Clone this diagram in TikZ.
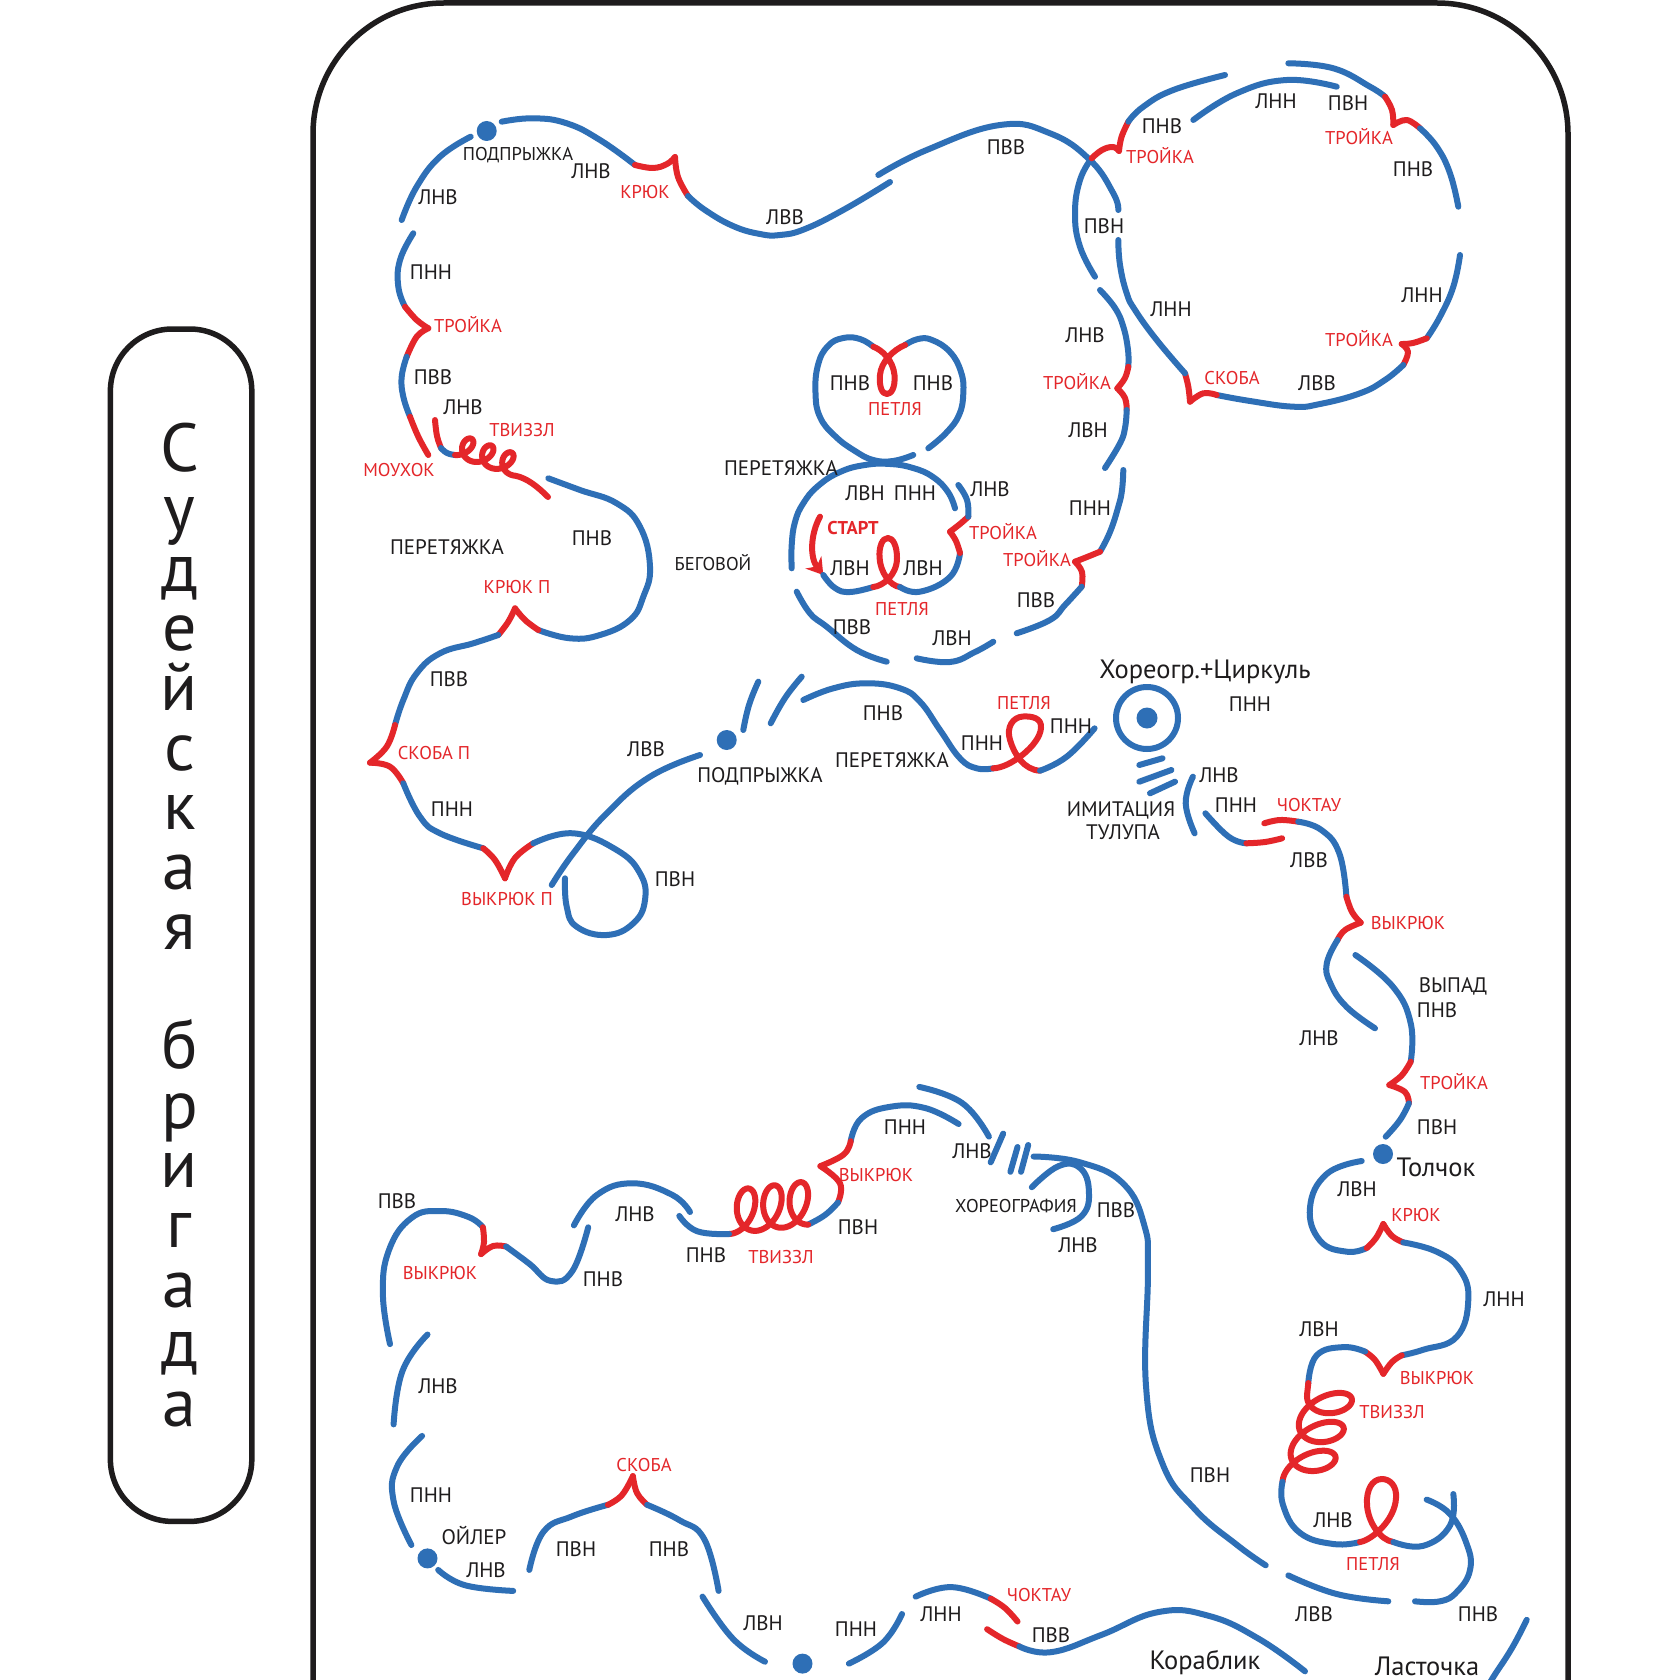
\documentclass[tikz,border=0pt]{standalone}
\usepackage{fontspec}
\setmainfont{PT Sans}
\usetikzlibrary{arrows.meta}
\definecolor{bluC}{RGB}{46,111,182}
\definecolor{redC}{RGB}{228,38,42}
\definecolor{inkC}{RGB}{30,28,29}
\newcommand\BL[1]{\draw[bl] plot[smooth,tension=0.75] coordinates {#1};}
\newcommand\RD[1]{\draw[rd] plot[smooth,tension=0.7] coordinates {#1};}
\begin{document}
\begin{tikzpicture}[x=1pt,y=-1pt,
 bl/.style={draw=bluC,line width=6pt,line cap=round,line join=round},
 rd/.style={draw=redC,line width=6pt,line cap=round,line join=round},
 lb/.style={font=\fontsize{21}{21}\selectfont,text=inkC,inner sep=0pt,text height=14.7pt,text depth=0pt},
 rl/.style={font=\fontsize{18.5}{18.5}\selectfont,text=redC,inner sep=0pt,text height=13pt,text depth=0pt},
 sm/.style={font=\fontsize{18.5}{18.5}\selectfont,text=inkC,inner sep=0pt,text height=13pt,text depth=0pt},
 bg/.style={font=\fontsize{26.5}{26.5}\selectfont,text=inkC,inner sep=0pt,text height=18.5pt,text depth=0pt},
 dotc/.style={fill=bluC},
 frm/.style={draw=inkC,line width=5.5pt},
 vt/.style={font=\fontsize{68}{59.68}\selectfont,text=inkC,inner sep=0pt,align=center}]
\fill[white] (0,0) rectangle (1680,1680);
\useasboundingbox (0,0) rectangle (1680,1680);
% frames
\draw[frm,rounded corners=131pt] (313,1760) -- (313,3) -- (1568,3) -- (1568,1760);
\draw[frm,rounded corners=62pt] (110.4,329) rectangle (251.8,1521.4);
\node[vt,anchor=north] (vtitle) at (179.5,423.1)
  {С\\у\\д\\е\\й\\с\\к\\а\\я\\\mbox{}\\б\\р\\и\\г\\а\\д\\а};

% ---------- top-left ----------
\BL{(470.7,136.7) (440,156.7) (416.7,186.7) (401.7,220)}
\fill[dotc] (486.7,131) circle[radius=10pt];
\BL{(501.7,121.7) (533.3,118.3) (566.7,123.3) (600,140) (635,165)}
\RD{(635,165) (653,168) (667,164) (675,157)}
\RD{(675,157) (678,177) (688,196)}
\BL{(688,196) (705,210) (733,226) (760,234) (780,235) (805,229) (845,209) (890,182)}
\BL{(878.3,175) (926.7,150) (1000,125) (1050,133.3) (1090,160) (1113.3,193.3) (1118.3,210)}
\BL{(413.3,233.3) (400,260) (398.3,286.7) (405,306.7)}
\RD{(405,306.7) (416.7,320) (428.3,328.3)}
\RD{(428.3,328.3) (416.7,336.7) (406.7,356.7)}
\BL{(406.7,356.7) (401.7,376.7) (403.3,396.7) (410,416.7)}
\RD{(410,416.7) (418.3,436.7) (428.3,455)}
\RD{(435,420) (437,436) (441,448)}
\BL{(441,448) (447,453) (455,455)}
\draw[rd] plot[domain=0:18.85,samples=240,variable=\t,smooth]
  ({455+3.2*\t+10*sin(\t r)+2*(1-cos(\t r))},{455-10*(1-cos(\t r))+1.1*\t})
  .. controls (527,478) and (538,487) .. (548,497);
% ---------- ПНВ / крюк П / скоба П / выкрюк П ----------
\BL{(548.3,478.3) (580,490) (616.7,503.3) (640,526.7) (650,566.7) (643.3,596.7) (630,620) (600,635) (570,638.3) (538.3,630)}
\RD{(538.3,630) (525,620) (515,608.3)}
\RD{(515,608.3) (508.3,621.7) (498.3,635)}
\BL{(498.3,635) (473.3,643.3) (440,653.3) (416.7,673.3) (403.3,700) (395,725)}
\RD{(395,725) (386.7,746.7) (370,762.7)}
\RD{(370,762.7) (390,766.7) (403.3,783.3)}
\BL{(403.3,783.3) (420,816.7) (440,833.3) (483.3,848.3)}
\RD{(483.3,848.3) (495,860) (505,878.3)}
\RD{(505,878.3) (515,858) (533.3,843.3)}
\BL{(533.3,843.3) (573.3,833.3) (616.7,850) (640,873.3) (645,900) (633.3,923.3) (606.7,935) (576.7,926.7) (566.7,906.7) (565,878.3)}
\BL{(551.7,885) (573.3,853.3) (606.7,813.3) (650,776.7) (700,755)}
\fill[dotc] (726.7,740) circle[radius=10pt];
\BL{(743.3,730) (749,705) (758.3,681.7)}
\BL{(770.7,723.3) (785,698) (801.7,676.7)}
% ---------- ПНВ wave + петля ----------
\BL{(803.3,700) (833.3,688.3) (866.7,683.3) (900,688.3) (920,701.7) (940,730) (960,758.3) (976.7,768.3) (993.3,768.3)}
\draw[rd] (993.3,768.3) .. controls (1010,768) and (1040,745) .. (1041,728)
  .. controls (1042,718) and (1032,716) .. (1023,716.5)
  .. controls (1013,717) and (1006,727) .. (1010,740)
  .. controls (1014,754) and (1024,770) .. (1040,770.7);
\BL{(1040,770.7) (1066.7,756.7) (1094.6,728.3)}
% ---------- figure eight ----------
\BL{(873.3,346.7) (860,339) (843.3,338) (828,346) (818,365) (815.5,393) (820,417) (835,436) (855,451) (873.3,460) (893,461) (913.3,455)}
\BL{(905,345) (918,339) (932,340) (950,352) (961,372) (963.3,393.3) (959,415) (946,433) (928.3,448.3)}
\draw[rd] (873.3,346.7) .. controls (882,350) and (893,360) .. (894.5,375)
  .. controls (895.5,388) and (891,394) .. (887,394)
  .. controls (882,394) and (879,387) .. (880,375)
  .. controls (881,362) and (893,350) .. (905,345);
\BL{(955,508.3) (948,492) (933,477) (913,468) (890,464) (865,465) (840,472) (818,486) (803.3,503.3) (795,522) (791.7,545) (791.7,568.3)}
\BL{(796.7,591.7) (810,613.3) (826.7,626.7) (856.7,650) (886.7,661.7)}
\BL{(916.7,658.3) (950,662) (975,652) (993.3,641.7)}
\draw[rd,-{Stealth[length=16pt,width=20pt]}] (820,516.7) .. controls (810,535) and (810,558) .. (823.3,575);
\BL{(823.3,575) (835,588) (850,592) (873.3,587)}
\draw[rd] (873.3,587) .. controls (883,586) and (897,575) .. (897,558)
  .. controls (897,546) and (893,538) .. (888,538)
  .. controls (882,538) and (879,547) .. (879.5,557)
  .. controls (880,572) and (890,586) .. (900,587);
\BL{(900,587) (920,591.7) (950,577) (960,553)}
\RD{(960,553) (956,541) (950,531.7)}
\RD{(950,531.7) (960,524) (968.3,516.7)}
\BL{(968.3,516.7) (967,500) (958.3,485)}
% ---------- right column near eight ----------
\BL{(1100,290) (1115,308) (1123.3,326.7) (1128,350) (1128.3,366.7)}
\RD{(1128.3,366.7) (1125,378) (1117.3,388.3)}
\RD{(1117.3,388.3) (1125,398) (1126.7,410)}
\BL{(1126.7,410) (1125,428) (1120,443.3) (1105,468)}
\BL{(1123.3,470) (1122,490) (1118.3,506.7) (1110,532) (1100,551.7)}
\RD{(1100,551.7) (1087,557) (1075,561.7)}
\RD{(1075,561.7) (1082,572) (1081.7,586.7)}
\BL{(1081.7,586.7) (1065,605) (1050,620) (1016.7,633.3)}
% ---------- top-right loop ----------
\BL{(1095,276.7) (1080,246.7) (1075,213.3) (1080,180) (1091.7,158.3)}
\RD{(1091.7,158.3) (1102,150) (1113,147) (1119,151)}
\RD{(1119,151) (1121.5,137) (1128.3,121.7)}
\BL{(1128.3,121.7) (1143.3,106.7) (1173.3,90) (1225,75)}
\BL{(1193.3,120) (1236.7,93.3) (1286.7,80) (1336.7,86.7)}
\BL{(1288.3,63.3) (1333.3,68.3) (1370,86.7) (1385,96.7)}
\RD{(1385,96.7) (1392,110) (1393.3,125)}
\RD{(1393.3,125) (1406.7,120) (1420,128.3)}
\BL{(1420,128.3) (1436.7,146.7) (1450,173.3) (1458.3,206.7)}
\BL{(1460,255) (1453.3,286.7) (1440,316.7) (1426.7,338.3)}
\RD{(1426.7,338.3) (1413,343) (1401.7,344)}
\RD{(1401.7,344) (1408,352) (1403.3,365)}
\BL{(1403.3,365) (1385,380) (1360,393.3) (1320,404) (1293.3,406.7) (1250,401) (1216.7,395)}
\RD{(1216.7,395) (1203.3,393.3) (1190,401.7)}
\RD{(1190,401.7) (1188.3,386.7) (1185,373.3)}
\BL{(1185,373.3) (1156.7,340) (1135,310) (1126.7,293.3) (1120,265) (1118.3,240)}
% ---------- choreo circle ----------
\draw[bl] (1147,718) circle[radius=31pt];
\fill[dotc] (1147,718) circle[radius=10.5pt];
\BL{(1139.3,765) (1162.5,758.3)}
\BL{(1139.3,781.7) (1171.4,770)}
\BL{(1150,793.3) (1175,781.7)}
\BL{(1192.9,776.7) (1185.7,803.3) (1194.6,833.3)}
\BL{(1205.4,813.3) (1228.6,836.7) (1246.4,843.3)}
\RD{(1246.4,843.3) (1265,842) (1282.1,838.3)}
\RD{(1264.3,823.3) (1280,820) (1298.2,821.7)}
\BL{(1298.2,821.7) (1321.4,830) (1339.3,853.3) (1346.4,896.7)}
\RD{(1346.4,896.7) (1352,912) (1360.7,922.7)}
\RD{(1360.7,922.7) (1345,930) (1337.5,940)}
\BL{(1337.5,940) (1326.8,963.3) (1330.4,983.3) (1346.4,1006.7) (1375,1028.3)}
\BL{(1355.4,955) (1392.9,986.7) (1410.7,1023.3) (1410.7,1061.7)}
\RD{(1410.7,1061.7) (1402,1075) (1389.3,1085)}
\RD{(1389.3,1085) (1405,1092) (1408.9,1103.3)}
\BL{(1408.9,1103.3) (1400,1120) (1385.7,1136.7)}
\fill[dotc] (1383,1154) circle[radius=10pt];
\BL{(1361.7,1161) (1326.7,1174) (1310,1207.3) (1320,1240.6) (1346.7,1251.7) (1366.7,1248)}
\RD{(1366.7,1248) (1376,1238) (1383.3,1224)}
\RD{(1383.3,1224) (1392,1236) (1403.3,1242.4)}
\BL{(1403.3,1242.4) (1436.7,1251.7) (1460,1270) (1468.3,1299.8) (1456.7,1336.8) (1423.3,1349.7) (1401.7,1355.3)}
\RD{(1401.7,1355.3) (1392,1362) (1383.3,1373.8)}
\RD{(1383.3,1373.8) (1375,1360) (1365,1351.6)}
\BL{(1365,1351.6) (1343.3,1347.1) (1316.7,1355.3) (1308.3,1383)}
\draw[rd] (1308.3,1383) -- plot[domain=0:18.85,samples=240,variable=\t,smooth]
  ({1307-1.3*\t+24.5*(1-cos(\t r))},{1395+4.6*\t+16*sin(\t r)-5*(1-cos(\t r))});
\BL{(1282.5,1481.7) (1283,1505) (1300,1532.9) (1333.3,1544) (1360,1542)}
\draw[rd] (1360,1542) .. controls (1372,1540) and (1395,1520) .. (1396,1498)
  .. controls (1397,1486) and (1390,1479) .. (1382,1479)
  .. controls (1372,1479) and (1366,1490) .. (1367,1505)
  .. controls (1368,1522) and (1380,1540) .. (1393.3,1542);
\BL{(1393.3,1542) (1423.3,1545.8) (1450,1525.5) (1453.3,1494)}
\BL{(1426.7,1499.6) (1450,1514) (1466.7,1544) (1470,1570) (1456.7,1592) (1440,1601.3) (1415,1601.3)}
\BL{(1288.3,1575.4) (1336.7,1594) (1388.3,1601.3)}
\BL{(1526.7,1619.8) (1512,1648) (1493.3,1677) (1486,1690)}
% ---------- bottom ----------
\BL{(1033.6,1156.5) (1080,1162.3) (1122.9,1183.3) (1144.3,1225.4) (1147.9,1271.4) (1146,1386) (1162.1,1462.7) (1194.3,1508.6) (1237.1,1545) (1265.7,1565.3)}
\BL{(1031.8,1187.2) (1058.6,1166.1) (1080,1168) (1088.9,1191) (1081.8,1215.9) (1053.2,1229.2)}
\BL{(990.7,1162.3) (1003.2,1133.6)}
\BL{(1010.4,1171.8) (1017.5,1147)}
\BL{(1021,1171.8) (1028.2,1145)}
\BL{(919.3,1086.9) (962.1,1103) (988.9,1136.6)}
\BL{(850.7,1141.2) (861.4,1118.3) (890,1106.8) (925,1108) (958.6,1124)}
\RD{(838,1202.5) (840,1183.3) (820.4,1166.1)}
\RD{(820.4,1166.1) (843.6,1154.6) (850.7,1141.2)}
\BL{(808,1224.6) (825,1215) (838,1202.5)}
\draw[rd] plot[domain=0:18.85,samples=240,variable=\t,smooth]
  ({729+4.2*\t+15*sin(\t r)+3*(1-cos(\t r))},{1234-22*(1-cos(\t r))-0.5*\t});
\BL{(679.3,1215.9) (697.1,1231.2) (729,1234)}
\BL{(573.9,1225.4) (597.1,1194.8) (632.9,1183.3) (672.1,1194.8) (690,1212)}
\BL{(390,1344.1) (382.9,1294.3) (389,1250) (411.4,1218) (440,1211) (468.6,1217) (482.9,1227.3)}
\RD{(482.9,1227.3) (484,1242) (481.1,1254.1)}
\RD{(481.1,1254.1) (493,1246) (506.1,1246.5)}
\BL{(506.1,1246.5) (529.3,1263.7) (550.7,1280.9) (572.1,1271.4) (588.2,1227.3)}
\BL{(427.5,1334.5) (402.5,1370.9) (393.6,1424.4)}
\BL{(422.1,1435.9) (397.1,1466.5) (393.6,1501) (411.4,1545)}
\fill[dotc] (427.5,1558.4) circle[radius=10pt];
\BL{(438.2,1569.9) (465,1585.2) (513.2,1590.9)}
\BL{(529.3,1569.9) (543.6,1531.6) (572.1,1516.3) (607.9,1504.8)}
\RD{(607.9,1504.8) (622,1495) (632.9,1476.1)}
\RD{(632.9,1476.1) (637,1493) (647.1,1504.8)}
\BL{(647.1,1504.8) (679.3,1520.1) (704.3,1539.2) (718.6,1590.9)}
\BL{(702.5,1596.6) (732.9,1638.7) (765,1661.7)}
\fill[dotc] (802.5,1663.6) circle[radius=10pt];
\BL{(848.9,1663.6) (882.9,1642.6) (902,1614)}
\BL{(915.7,1596.6) (951.4,1587.1) (990.7,1598.6)}
\RD{(990.7,1598.6) (1005,1608) (1017.5,1621.5)}
\RD{(987.1,1629.2) (1003,1639) (1019.3,1646.4)}
\BL{(1019.3,1646.4) (1051.4,1652.1) (1101.4,1634.9) (1158.6,1612) (1208.6,1615.8) (1258.6,1638.7) (1305,1671.3)}

% ---------- labels ----------
\node[sm] (t1) at (518,154) {ПОДПРЫЖКА};
\node[lb] (t2) at (591,171) {ЛНВ};
\node[rl] (t3) at (645,192) {КРЮК};
\node[lb] (t4) at (438,197) {ЛНВ};
\node[lb] (t5) at (431,272) {ПНН};
\node[rl] (t6) at (468,326) {ТРОЙКА};
\node[lb] (t7) at (433,377) {ПВВ};
\node[lb] (t8) at (463,407) {ЛНВ};
\node[rl] (t9) at (522,430) {ТВИЗЗЛ};
\node[rl] (t10) at (399,470) {МОУХОК};
\node[lb] (t11) at (785,217) {ЛВВ};
\node[lb] (t12) at (1006,147) {ПВВ};
\node[lb] (t13) at (1162,126) {ПНВ};
\node[rl] (t14) at (1160,157) {ТРОЙКА};
\node[lb] (t15) at (1276,101) {ЛНН};
\node[lb] (t16) at (1348,103) {ПВН};
\node[rl] (t17) at (1359,138) {ТРОЙКА};
\node[lb] (t18) at (1413,169) {ПНВ};
\node[lb] (t19) at (1104,226) {ПВН};
\node[lb] (t20) at (1171,309) {ЛНН};
\node[lb] (t21) at (1422,295) {ЛНН};
\node[rl] (t22) at (1359,340) {ТРОЙКА};
\node[rl] (t23) at (1232,378) {СКОБА};
\node[lb] (t24) at (1317,383) {ЛВВ};
\node[lb] (t25) at (1085,335) {ЛНВ};
\node[rl] (t26) at (1077,383) {ТРОЙКА};
\node[lb] (t27) at (1088,430) {ЛВН};
\node[lb] (t28) at (1090,508) {ПНН};
\node[rl] (t29) at (1037,560) {ТРОЙКА};
\node[lb] (t30) at (1036,600) {ПВВ};
\node[lb] (t31) at (850,383) {ПНВ};
\node[lb] (t32) at (933,383) {ПНВ};
\node[rl] (t33) at (895,409) {ПЕТЛЯ};
\node[lb] (t34) at (781,468) {ПЕРЕТЯЖКА};
\node[lb] (t35) at (865,493) {ЛВН};
\node[lb] (t36) at (915,493) {ПНН};
\node[lb] (t37) at (990,489) {ЛНВ};
\node[rl,font=\bfseries\fontsize{18.5}{18.5}\selectfont] (t38) at (853,528) {СТАРТ};
\node[rl] (t39) at (1003,533) {ТРОЙКА};
\node[lb] (t40) at (850,568) {ЛВН};
\node[lb] (t41) at (923,568) {ЛВН};
\node[rl] (t42) at (902,609) {ПЕТЛЯ};
\node[lb] (t43) at (852,627) {ПВВ};
\node[lb] (t44) at (952,638) {ЛВН};
\node[lb] (t45) at (447,547) {ПЕРЕТЯЖКА};
\node[lb] (t46) at (592,538) {ПНВ};
\node[sm] (t47) at (713,564) {БЕГОВОЙ};
\node[rl] (t48) at (517,587) {КРЮК П};
\node[lb] (t49) at (449,679) {ПВВ};
\node[rl] (t50) at (434,753) {СКОБА П};
\node[lb] (t51) at (452,809) {ПНН};
\node[rl] (t52) at (507,899) {ВЫКРЮК П};
\node[lb] (t53) at (646,749) {ЛВВ};
\node[lb] (t54) at (760,775) {ПОДПРЫЖКА};
\node[lb] (t55) at (675,879) {ПВН};
\node[lb] (t56) at (883,713) {ПНВ};
\node[lb] (t57) at (892,760) {ПЕРЕТЯЖКА};
\node[lb] (t58) at (982,743) {ПНН};
\node[rl] (t59) at (1024,703) {ПЕТЛЯ};
\node[lb] (t60) at (1071,726) {ПНН};
\node[bg] (t61) at (1205,669) {Хореогр.+Циркуль};
\node[lb] (t62) at (1250,704) {ПНН};
\node[lb] (t63) at (1219,775) {ЛНВ};
\node[lb] (t64) at (1121,809) {ИМИТАЦИЯ};
\node[lb] (t65) at (1123,832) {ТУЛУПА};
\node[lb] (t66) at (1236,805) {ПНН};
\node[rl] (t67) at (1309,805) {ЧОКТАУ};
\node[lb] (t68) at (1309,860) {ЛВВ};
\node[rl] (t69) at (1408,923) {ВЫКРЮК};
\node[lb] (t70) at (1453,985) {ВЫПАД};
\node[lb] (t71) at (1437,1010) {ПНВ};
\node[lb] (t72) at (1319,1038) {ЛНВ};
\node[rl] (t73) at (1454,1083) {ТРОЙКА};
\node[lb] (t74) at (1437,1127) {ПВН};
\node[bg] (t75) at (1436,1167) {Толчок};
\node[lb] (t76) at (1357,1189) {ЛВН};
\node[rl] (t77) at (1416,1215) {КРЮК};
\node[lb] (t78) at (1504,1299) {ЛНН};
\node[lb] (t79) at (1319,1329) {ЛВН};
\node[rl] (t80) at (1437,1378) {ВЫКРЮК};
\node[rl] (t81) at (1392,1412) {ТВИЗЗЛ};
\node[lb] (t82) at (1333,1520) {ЛНВ};
\node[rl] (t83) at (1373,1564) {ПЕТЛЯ};
\node[lb] (t84) at (1314,1614) {ЛВВ};
\node[lb] (t85) at (1478,1614) {ПНВ};
\node[bg] (t86) at (1427,1666) {Ласточка};
\node[lb] (t87) at (1210,1475) {ПВН};
\node[lb] (t88) at (972,1151) {ЛНВ};
\node[sm] (t89) at (1016,1206) {ХОРЕОГРАФИЯ};
\node[lb] (t90) at (1116,1210) {ПВВ};
\node[lb] (t91) at (1078,1245) {ЛНВ};
\node[lb] (t92) at (905,1127) {ПНН};
\node[rl] (t93) at (876,1175) {ВЫКРЮК};
\node[lb] (t94) at (858,1227) {ПВН};
\node[rl] (t95) at (781,1257) {ТВИЗЗЛ};
\node[lb] (t96) at (706,1255) {ПНВ};
\node[lb] (t97) at (635,1214) {ЛНВ};
\node[lb] (t98) at (603,1279) {ПНВ};
\node[lb] (t99) at (397,1201) {ПВВ};
\node[rl] (t100) at (440,1273) {ВЫКРЮК};
\node[lb] (t101) at (438,1386) {ЛНВ};
\node[lb] (t102) at (431,1495) {ПНН};
\node[lb] (t103) at (474,1537) {ОЙЛЕР};
\node[lb] (t104) at (486,1570) {ЛНВ};
\node[rl] (t105) at (644,1465) {СКОБА};
\node[lb] (t106) at (576,1549) {ПВН};
\node[lb] (t107) at (669,1549) {ПНВ};
\node[lb] (t108) at (763,1623) {ЛВН};
\node[lb] (t109) at (856,1629) {ПНН};
\node[lb] (t110) at (941,1614) {ЛНН};
\node[rl] (t111) at (1039,1595) {ЧОКТАУ};
\node[lb] (t112) at (1051,1635) {ПВВ};
\node[bg] (t113) at (1205,1660) {Кораблик};
\end{tikzpicture}
\end{document}
